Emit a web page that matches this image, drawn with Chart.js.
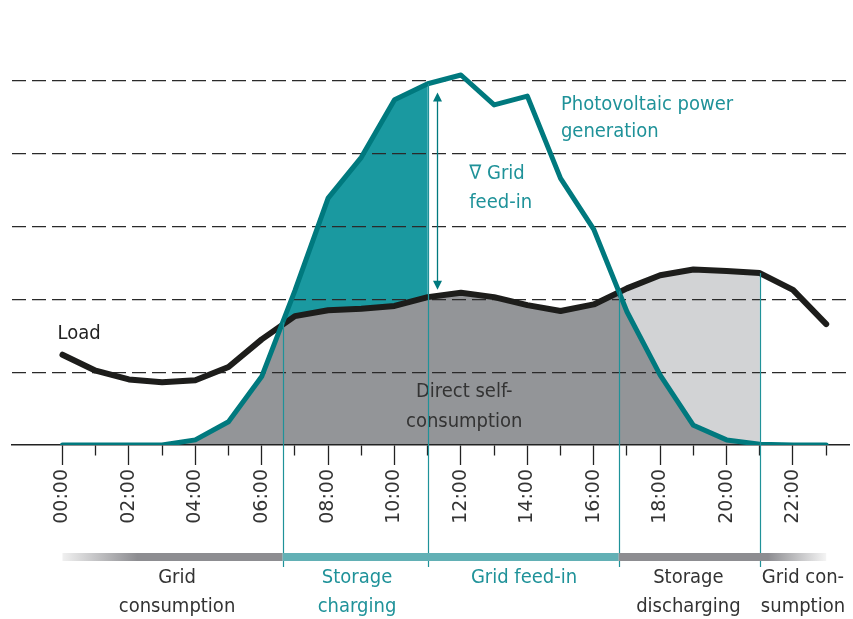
<!DOCTYPE html>
<html>
<head>
<meta charset="utf-8">
<script src="https://cdn.jsdelivr.net/npm/chart.js@4"></script>
<style>
  body { margin: 0; background: #fff; }
  #wrap { width: 853px; height: 619px; }
</style>
</head>
<body>
<div id="wrap"><canvas id="chart"></canvas></div>
<script>
// hours of the day
let hours = [0,1,2,3,4,5,6,7,8,9,10,11,12,13,14,15,16,17,18,19,20,21,22,23];
let tickHours = [0,2,4,6,8,10,12,14,16,18,20,22];
let tickLabels = ["00:00","02:00","04:00","06:00","08:00","10:00","12:00","14:00","16:00","18:00","20:00","22:00"];

// photovoltaic generation and load (grid units)
let pvPower = [0,0,0,0,0.07,0.32,0.94,2.12,3.39,3.95,4.74,4.96,5.08,4.67,4.79,3.66,2.96,1.83,0.96,0.27,0.07,0.01,0,0];
let loadPower = [1.24,1.02,0.90,0.86,0.89,1.07,1.45,1.77,1.85,1.87,1.91,2.03,2.09,2.03,1.92,1.84,1.93,2.15,2.33,2.41,2.39,2.36,2.13,1.66];

// phases along the day
let phaseBounds = [6.63, 11, 16.75, 21];
let phaseNames = [["Grid","consumption"],["Storage","charging"],["Grid feed-in"],["Storage","discharging"],["Grid con-","sumption"]];
let phaseLabelHours = [3.45, 8.87, 13.9, 18.85, 22.3];
let bandRange = [0, 23];

const TEAL_LINE = "#00797e";
const TEAL_FILL = "#1a99a0";
const TEAL_TEXT = "#1f9299";
const DARK_GRAY = "#939598";
const LIGHT_GRAY = "#d2d3d5";
const TXT_FONT = '20px "DejaVu Sans Condensed", "Liberation Sans Narrow", "DejaVu Sans", sans-serif';

// text notes in chart units: [hour, value, align, colour, text]
let notes = [
  [-0.15, 1.53, "left", "#222", "Load"],
  [15.01, 4.67, "left", TEAL_TEXT, "Photovoltaic power"],
  [15.01, 4.30, "left", TEAL_TEXT, "generation"],
  [12.25, 3.73, "left", TEAL_TEXT, "\u2207 Grid"],
  [12.25, 3.32, "left", TEAL_TEXT, "feed-in"],
  [12.1, 0.73, "center", "#333", "Direct self-"],
  [12.1, 0.32, "center", "#333", "consumption"]
];
let feedArrow = [11.28, 4.84, 2.13];

function linePath(ctx, pts, edgeY){
  ctx.beginPath();
  ctx.moveTo(pts[0].x, edgeY);
  pts.forEach(p=>ctx.lineTo(p.x, p.y));
  ctx.lineTo(pts[pts.length-1].x, edgeY);
  ctx.closePath();
}

function topAt(chart, h){
  let pv = chart.getDatasetMeta(0).data, ld = chart.getDatasetMeta(1).data;
  let i = Math.floor(h), t = h - i;
  let j = Math.min(i+1, pv.length-1);
  let a = pv[i].y + t*(pv[j].y - pv[i].y);
  let b = ld[i].y + t*(ld[j].y - ld[i].y);
  return Math.min(a, b);
}

const areaPlugin = {
  id: "areas",
  beforeDraw(chart){
    let {ctx, chartArea: a, scales: {x, y}} = chart;
    let pv = chart.getDatasetMeta(0).data, ld = chart.getDatasetMeta(1).data;
    let base = y.getPixelForValue(0);
    ctx.save();
    ctx.fillStyle = "#fff";
    ctx.fillRect(0, 0, chart.width, chart.height);
    ctx.restore();

    // direct self-consumption (under both curves)
    ctx.save();
    linePath(ctx, pv, base); ctx.clip();
    linePath(ctx, ld, base);
    ctx.fillStyle = DARK_GRAY; ctx.fill();
    ctx.restore();

    // storage charging (pv above load, until phase 2)
    ctx.save();
    ctx.beginPath();
    ctx.rect(a.left, a.top, x.getPixelForValue(phaseBounds[1]) - a.left, a.height);
    ctx.clip();
    linePath(ctx, pv, base); ctx.clip();
    linePath(ctx, ld, a.top);
    ctx.fillStyle = TEAL_FILL; ctx.fill();
    ctx.restore();

    // storage discharging (load above pv)
    ctx.save();
    let x0 = x.getPixelForValue(Math.floor(phaseBounds[2]));
    ctx.beginPath();
    ctx.rect(x0, a.top, x.getPixelForValue(phaseBounds[3]) - x0, a.height);
    ctx.clip();
    linePath(ctx, ld, base); ctx.clip();
    linePath(ctx, pv, a.top);
    ctx.fillStyle = LIGHT_GRAY; ctx.fill();
    ctx.restore();
  },
  afterDraw(chart){
    let {ctx, chartArea: a, scales: {x, y}} = chart;
    ctx.save();
    ctx.font = TXT_FONT;
    ctx.textBaseline = "middle";
    notes.forEach(n=>{
      ctx.textAlign = n[2];
      ctx.fillStyle = n[3];
      ctx.fillText(n[4], x.getPixelForValue(n[0]), y.getPixelForValue(n[1]));
    });

    // phase separators
    ctx.strokeStyle = TEAL_TEXT;
    ctx.lineWidth = 1.2;
    phaseBounds.forEach(b=>{
      let px = Math.round(x.getPixelForValue(b)) + 0.5;
      ctx.beginPath();
      ctx.moveTo(px, topAt(chart, b));
      ctx.lineTo(px, a.bottom + 122);
      ctx.stroke();
    });

    // grid feed-in arrow
    let ax = Math.round(x.getPixelForValue(feedArrow[0])) + 0.5;
    let y1 = y.getPixelForValue(feedArrow[1]), y2 = y.getPixelForValue(feedArrow[2]);
    ctx.strokeStyle = TEAL_LINE; ctx.fillStyle = TEAL_LINE;
    ctx.lineWidth = 1.3;
    ctx.beginPath(); ctx.moveTo(ax, y1 + 6); ctx.lineTo(ax, y2 - 6); ctx.stroke();
    ctx.beginPath(); ctx.moveTo(ax, y1); ctx.lineTo(ax - 4.5, y1 + 9); ctx.lineTo(ax + 4.5, y1 + 9); ctx.closePath(); ctx.fill();
    ctx.beginPath(); ctx.moveTo(ax, y2); ctx.lineTo(ax - 4.5, y2 - 9); ctx.lineTo(ax + 4.5, y2 - 9); ctx.closePath(); ctx.fill();

    // phase band
    let bandY = a.bottom + 108, bandH = 8;
    let bx0 = x.getPixelForValue(bandRange[0]), bx1 = x.getPixelForValue(bandRange[1]);
    let p1 = x.getPixelForValue(phaseBounds[0]), p3 = x.getPixelForValue(phaseBounds[2]);
    let p4 = x.getPixelForValue(phaseBounds[3]);
    let g1 = ctx.createLinearGradient(bx0, 0, bx0 + 75, 0);
    g1.addColorStop(0, "#f0f0f0"); g1.addColorStop(1, "#8d8d91");
    ctx.fillStyle = g1; ctx.fillRect(bx0, bandY, p1 - bx0, bandH);
    ctx.fillStyle = "#62b0b5"; ctx.fillRect(p1, bandY, p3 - p1, bandH);
    let g2 = ctx.createLinearGradient(p4 + 8, 0, bx1, 0);
    g2.addColorStop(0, "#8d8d91"); g2.addColorStop(1, "#f4f4f4");
    ctx.fillStyle = g2; ctx.fillRect(p3, bandY, bx1 - p3, bandH);

    // phase names
    ctx.textAlign = "center";
    phaseNames.forEach((lines, i)=>{
      ctx.fillStyle = (i == 1 || i == 2) ? TEAL_TEXT : "#333";
      lines.forEach((t, k)=>{
        ctx.fillText(t, x.getPixelForValue(phaseLabelHours[i]), a.bottom + 133 + k*29);
      });
    });
    ctx.restore();
  }
};

let ctx = document.getElementById("chart").getContext("2d");
new Chart(ctx, {
  type: "line",
  data: {
    datasets: [
      {label: "Photovoltaic power generation", data: hours.map((h,i)=>({x:h, y:pvPower[i]})),
       borderColor: TEAL_LINE, borderWidth: 5, pointRadius: 0, tension: 0, fill: false,
       borderJoinStyle: "round", borderCapStyle: "round"},
      {label: "Load", data: hours.map((h,i)=>({x:h, y:loadPower[i]})),
       borderColor: "#1d1d1b", borderWidth: 6, pointRadius: 0, tension: 0, fill: false,
       borderJoinStyle: "round", borderCapStyle: "round"}
    ]
  },
  options: {
    responsive: true,
    maintainAspectRatio: false,
    animation: false,
    layout: {padding: {left: 12, right: 0, top: 8, bottom: 0}},
    plugins: {legend: {display: false}, tooltip: {enabled: false}},
    scales: {
      x: {
        type: "linear", min: -1.52, max: 23.71,
        afterBuildTicks: s=>{ s.ticks = hours.map(h=>({value: h})); },
        afterFit: s=>{ s.height = 174; },
        ticks: {
          autoSkip: false, minRotation: 90, maxRotation: 90, padding: 4,
          color: "#333", font: {family: "DejaVu Sans", size: 19},
          callback: v=>{ let i = tickHours.indexOf(v); return i < 0 ? "" : tickLabels[i]; }
        },
        grid: {
          drawOnChartArea: false, tickLength: 20, tickColor: "#222", tickWidth: 1.3,
          tickBorderDash: c=>(c.index % 2 ? [10, 40] : [])
        },
        border: {color: "#222", width: 1.5}
      },
      y: {
        min: 0, max: 6,
        afterFit: s=>{ s.width = 0; },
        ticks: {display: false, stepSize: 1},
        grid: {
          drawTicks: false, lineWidth: 1.3,
          color: c=>(c.tick && c.tick.value >= 1 && c.tick.value <= 5 ? "#2a2a2a" : "rgba(0,0,0,0)")
        },
        border: {display: false, dash: [14, 6]}
      }
    }
  },
  plugins: [areaPlugin]
});
</script>
</body>
</html>
